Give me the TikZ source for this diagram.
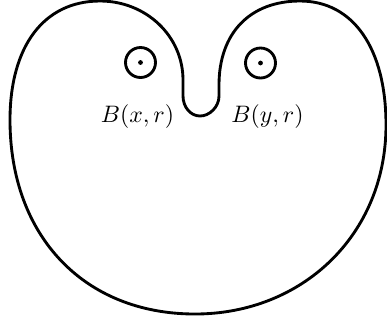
\documentclass[tikz,border=0pt]{standalone}
\usepackage{amsmath}
\usepackage{tikz}

\begin{document}
\begin{tikzpicture}[x=0.42pt,y=-0.42pt,font=\rmfamily\fontsize{10.4}{12.5}\selectfont,
 outline/.style={line width=1.2pt,line join=round},
 ball/.style={draw,circle,line width=1.2pt,minimum size=12.6pt,inner sep=0pt},
 lbl/.style={inner sep=0pt}]
\useasboundingbox (0,0) rectangle (387,327);
% domain with a notch between the two balls
\draw[outline] (200,116) .. controls (190.5,116) and (183,107) .. (183,96)
 -- (183,80) .. controls (183,36) and (146,1) .. (100,1)
 .. controls (44,1) and (10,46) .. (10,120)
 .. controls (10,236) and (84,314) .. (195,314)
 .. controls (302,314) and (386,235) .. (386,125)
 .. controls (386,48) and (353,1) .. (300,1)
 .. controls (250,1) and (219,33) .. (219,85)
 -- (219,96) .. controls (219,107) and (209.5,116) .. cycle;
\node[ball] (bx) at (140.5,62.5) {};
\node[ball] (by) at (260.5,63) {};
\fill (bx.center) circle (1pt);
\fill (by.center) circle (1pt);
\node[lbl] (lx) at (137.5,117) {$B(x,r)$};
\node[lbl] (ly) at (267.5,117) {$B(y,r)$};
\end{tikzpicture}
\end{document}
